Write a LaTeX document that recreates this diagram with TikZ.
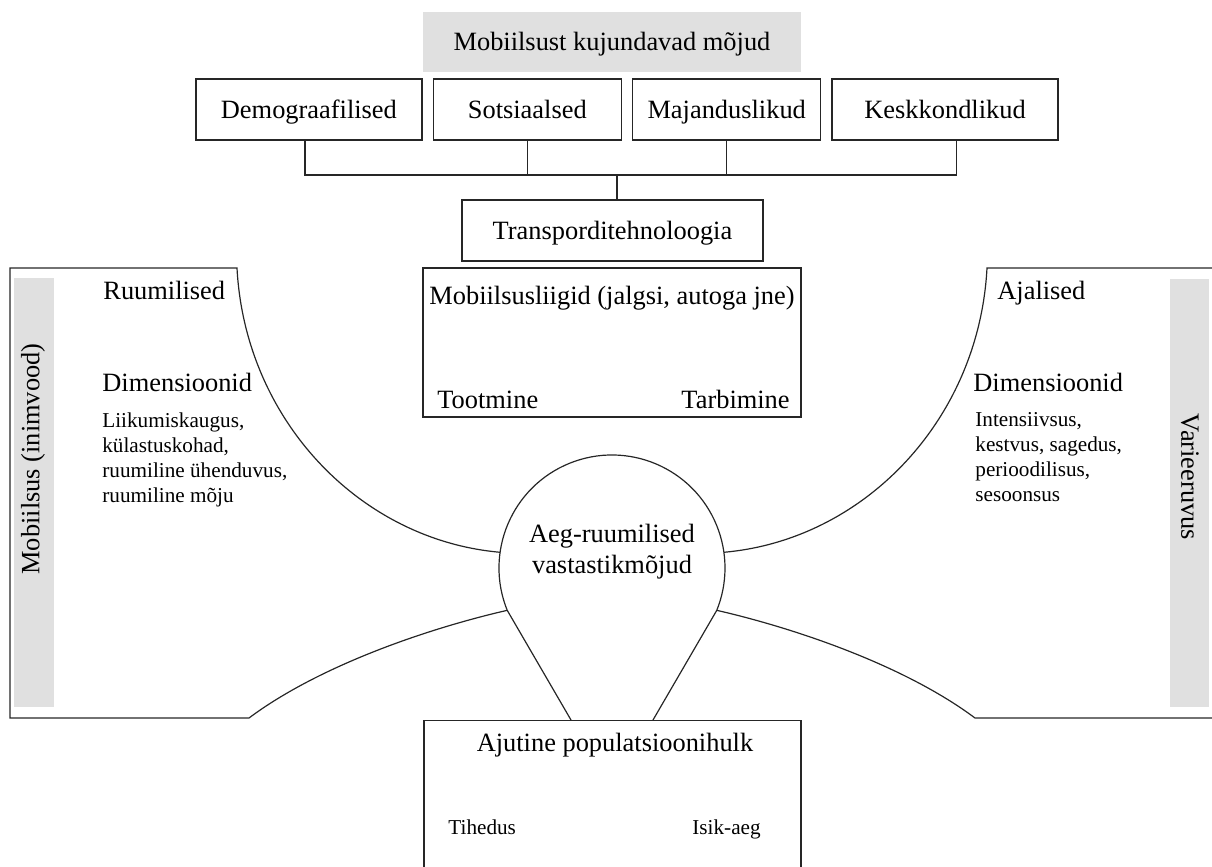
\documentclass[tikz,border=0pt]{standalone}
\usepackage{fontspec}
\setmainfont{Liberation Serif}
\usetikzlibrary{calc}

\begin{document}
\begin{tikzpicture}[x=0.5pt, y=0.5pt,
  box/.style={draw=black!85, line width=0.7pt, shape=rectangle, inner sep=0pt,
    text height=10.2pt, text depth=1.5pt, font=\fontsize{13.2}{15.5}\selectfont},
  lbl/.style={inner sep=0pt, font=\fontsize{13.2}{15.5}\selectfont},
  small/.style={inner sep=0pt, font=\fontsize{10.6}{12.5}\selectfont, align=left},
  edge/.style={draw=black!85, line width=0.6pt}]
\useasboundingbox (0,0) rectangle (1212,-867);
\clip (0,0) rectangle (1212,-867);

% influences
\node (title) [box, draw=none, fill=black!12, minimum width=189pt, minimum height=30pt] at (612,-42) {Mobiilsust kujundavad mõjud};
\matrix [column sep=5pt] at (627,-109.5) {
  \node (demo) [box, minimum width=113pt, minimum height=30.5pt] {Demograafilised}; &
  \node (sots) [box, minimum width=94pt, minimum height=30.5pt] {Sotsiaalsed}; &
  \node (maj) [box, minimum width=94pt, minimum height=30.5pt] {Majanduslikud}; &
  \node (kesk) [box, minimum width=113pt, minimum height=30.5pt] {Keskkondlikud}; \\
};
\coordinate (jn) at (617,-175);
\draw [edge] ([xshift=-2pt]demo.south) |- (jn) -| ([xshift=5.5pt]kesk.south);
\draw [edge] (sots.south) -- (sots.south |- jn);
\draw [edge] (maj.south) -- (maj.south |- jn);
\node (transp) [box, minimum width=150.5pt, minimum height=30.5pt] at (612.5,-230.5) {Transporditehnoloogia};
\draw [edge] (jn) -- (jn |- transp.north);

% mobility types
\node (liigid) [box, minimum width=189pt, minimum height=74.5pt] at (612,-342.5) {};
\node (liigidtxt) [lbl, anchor=base] at (612,-304) {Mobiilsusliigid (jalgsi, autoga jne)};
\node (tootmine) [lbl, anchor=base west] at (437,-408) {Tootmine};
\node (tarbimine) [lbl, anchor=base east] at (790,-408) {Tarbimine};

% bulb and population
\node (bulb) [circle, minimum size=113pt, inner sep=0pt, outer sep=0pt] at (612,-568) {};
\node (aeg) [lbl, align=center] at (612,-552) {Aeg-ruumilised\\vastastikmõjud};
\node (ajutine) [box, anchor=north, minimum width=188.5pt, minimum height=110pt] at (612.5,-720) {};
\node (ajutinetxt) [lbl, anchor=base] at (615,-751) {Ajutine populatsioonihulk};
\node (tihedus) [small, anchor=base west] at (448,-834) {Tihedus};
\node (isikaeg) [small, anchor=base west] at (692,-834) {Isik-aeg};
\draw [edge] ($(ajutine.north)+(-41.5,0)$) -- (bulb.202)
  arc[start angle=202, end angle=-22, radius=56.5pt] -- ($(ajutine.north)+(40.5,0)$);

% side panels
\fill [black!12] (14,-278) rectangle (54,-707);
\fill [black!12] (1170,-279) rectangle (1209,-707);
\draw [edge] (bulb.172) .. controls (360,-540) and (245,-420) .. (237,-268)
  -- (10,-268) -- (10,-718) -- (249,-718) .. controls (320,-665) and (430,-628) .. (bulb.202);
\draw [edge] (bulb.8) .. controls (864,-540) and (979,-420) .. (987,-268)
  -- (1225,-268) -- (1225,-718) -- (975,-718) .. controls (904,-665) and (794,-628) .. (bulb.-22);

\node (mobiilsus) [lbl, rotate=90] at (33,-459) {Mobiilsus (inimvood)};
\node (varieeruvus) [lbl, rotate=-90] at (1190,-477) {Varieeruvus};

\node (ruum) [lbl, anchor=base west] at (103,-299) {Ruumilised};
\node (dimL) [lbl, anchor=base west] at (102,-391) {Dimensioonid};
\node (listL) [small, anchor=north west] at (102,-412) {Liikumiskaugus,\\külastuskohad,\\ruumiline ühenduvus,\\ruumiline mõju};
\node (ajal) [lbl, anchor=base west] at (997,-299) {Ajalised};
\node (dimR) [lbl, anchor=base west] at (973,-391) {Dimensioonid};
\node (listR) [small, anchor=north west] at (975,-412) {Intensiivsus,\\kestvus, sagedus,\\perioodilisus,\\sesoonsus};
\end{tikzpicture}
\end{document}
